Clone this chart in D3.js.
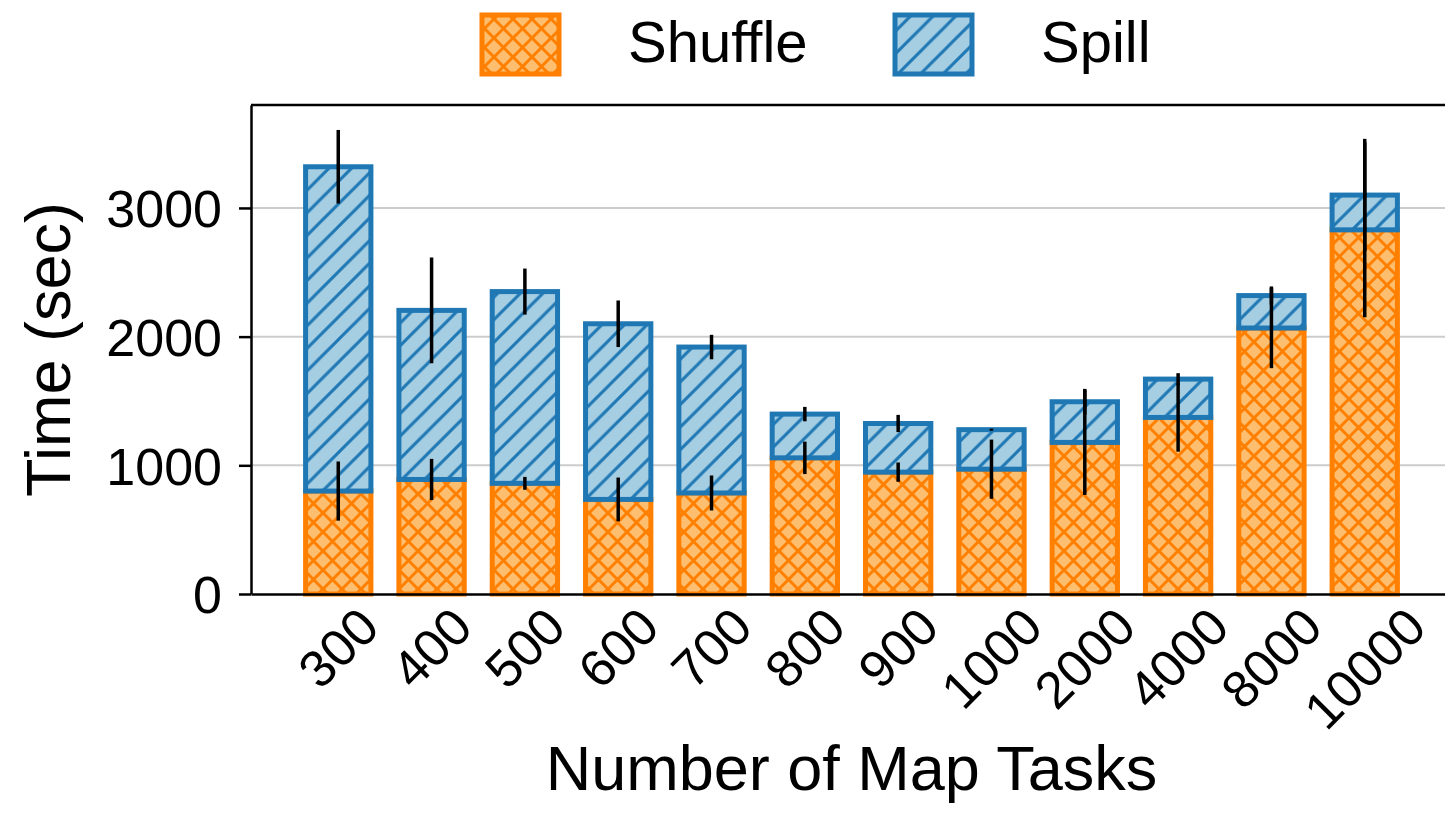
<!DOCTYPE html>
<html>
<head>
<meta charset="utf-8">
<script src="https://cdn.jsdelivr.net/npm/d3@7"></script>
<style>
  body { margin: 0; background: #fff; }
  text { font-family: "Liberation Sans", Arial, sans-serif; fill: #000; }
</style>
</head>
<body>
<script>
// values
const categories = ["300", "400", "500", "600", "700", "800", "900", "1000", "2000", "4000", "8000", "10000"]
const shuffle    = [800, 890, 860, 735, 785, 1058, 947, 970, 1178, 1372, 2067, 2830]
const shuffleErr = [230, 160, 50, 170, 136, 126, 75, 230, 408, 266, 312, 680]
const spill      = [2520, 1314, 1490, 1365, 1134, 340, 378, 307, 316, 298, 252, 270]
const spillErr   = [286, 411, 179, 181, 95, 56, 67, 8, 100, 46, 71, 437]
const yTicks     = [0, 1000, 2000, 3000]

const width = 1445
const height = 829
const plot = { left: 251, right: 1452, top: 105, bottom: 594 }

const svg = d3.select("body").append("svg")
    .attr("width", width)
    .attr("height", height)
    .attr("xmlns", "http://www.w3.org/2000/svg")

const x = d3.scaleBand()
    .domain(categories)
    .range([plot.left, plot.right])
    .paddingInner(0.3)
    .paddingOuter(0.585)

const y = d3.scaleLinear()
    .domain([0, 3800])
    .range([plot.bottom, plot.top])

// hatch patterns, like matplotlib's 'xxx' and '//'
const defs = svg.append("defs")
const addHatch = (id, s, bg, color, cross) => {
  const p = defs.append("pattern")
      .attr("id", id)
      .attr("patternUnits", "userSpaceOnUse")
      .attr("width", s)
      .attr("height", s)
  p.append("rect").attr("width", s).attr("height", s).attr("fill", bg)
  p.append("path")
      .attr("d", `M${-s/2},${s/2}L${s/2},${-s/2}M0,${s}L${s},0M${s/2},${s*1.5}L${s*1.5},${s/2}`)
      .attr("stroke", color)
      .attr("stroke-width", 3)
  if (cross) {
    p.append("path")
        .attr("d", `M${-s/2},${s/2}L${s/2},${s*1.5}M0,0L${s},${s}M${s/2},${-s/2}L${s*1.5},${s/2}`)
        .attr("stroke", color)
        .attr("stroke-width", 3)
  }
}
addHatch("hatchShuffle", 19, "#fdbf6f", "#ff7f00", true)
addHatch("hatchSpill", 22.6, "#a6cee3", "#1f78b4", false)

// grid
svg.append("g")
  .selectAll("line")
  .data(yTicks.filter(d => d > 0))
  .join("line")
    .attr("x1", plot.left)
    .attr("x2", plot.right)
    .attr("y1", d => y(d))
    .attr("y2", d => y(d))
    .attr("stroke", "#cccccc")
    .attr("stroke-width", 2)

const rows = categories.map((c, i) => ({
  cat: c,
  shuffle: shuffle[i],
  shuffleErr: shuffleErr[i],
  total: shuffle[i] + spill[i],
  spillErr: spillErr[i]
}))

// shuffle bars
svg.append("g")
  .selectAll("rect")
  .data(rows)
  .join("rect")
    .attr("x", d => x(d.cat))
    .attr("width", x.bandwidth())
    .attr("y", d => y(d.shuffle))
    .attr("height", d => y(0) - y(d.shuffle))
    .attr("fill", "url(#hatchShuffle)")
    .attr("stroke", "#ff7f00")
    .attr("stroke-width", 5)

// spill bars stacked on top
svg.append("g")
  .selectAll("rect")
  .data(rows)
  .join("rect")
    .attr("x", d => x(d.cat))
    .attr("width", x.bandwidth())
    .attr("y", d => y(d.total))
    .attr("height", d => y(d.shuffle) - y(d.total))
    .attr("fill", "url(#hatchSpill)")
    .attr("stroke", "#1f78b4")
    .attr("stroke-width", 5)

// error bars
const errs = svg.append("g").attr("stroke", "#000").attr("stroke-width", 3.5)
errs.selectAll(".e1")
  .data(rows)
  .join("line")
    .attr("class", "e1")
    .attr("x1", d => x(d.cat) + x.bandwidth() / 2)
    .attr("x2", d => x(d.cat) + x.bandwidth() / 2)
    .attr("y1", d => y(d.shuffle - d.shuffleErr))
    .attr("y2", d => y(d.shuffle + d.shuffleErr))
errs.selectAll(".e2")
  .data(rows)
  .join("line")
    .attr("class", "e2")
    .attr("x1", d => x(d.cat) + x.bandwidth() / 2)
    .attr("x2", d => x(d.cat) + x.bandwidth() / 2)
    .attr("y1", d => y(d.total - d.spillErr))
    .attr("y2", d => y(d.total + d.spillErr))

// axes
const yAxis = svg.append("g")
    .attr("transform", `translate(${plot.left},0)`)
    .call(d3.axisLeft(y).tickValues(yTicks).tickFormat(d3.format("d"))
      .tickSize(12).tickSizeOuter(0).tickPadding(17))
yAxis.select(".domain").attr("stroke-width", 2.5)
yAxis.selectAll(".tick line").attr("stroke-width", 2.5)
yAxis.selectAll(".tick text")
    .attr("font-size", 52)
    .attr("font-family", "Liberation Sans, Arial, sans-serif")
    .attr("dy", "0.36em")

const xAxis = svg.append("g")
    .attr("transform", `translate(0,${plot.bottom})`)
    .call(d3.axisBottom(x).tickSize(0).tickSizeOuter(0))
xAxis.select(".domain").attr("stroke-width", 2.5)

const angle = 45
const rad = angle * Math.PI / 180
const xFont = 52
xAxis.selectAll(".tick text")
    .attr("font-size", xFont)
    .attr("font-family", "Liberation Sans, Arial, sans-serif")
    .attr("dy", null)
    .attr("y", 0)
    .attr("text-anchor", "middle")
    .attr("dominant-baseline", "central")
    .attr("transform", function() {
      const len = this.getComputedTextLength()
      const h = len * Math.sin(rad) + xFont * 0.72 * Math.cos(rad)
      return `translate(0,${10 + h / 2}) rotate(${-angle})`
    })

// top spine
svg.append("line")
    .attr("x1", plot.left)
    .attr("x2", plot.right)
    .attr("y1", plot.top)
    .attr("y2", plot.top)
    .attr("stroke", "#000")
    .attr("stroke-width", 2.5)

// axis titles
svg.append("text")
    .attr("x", (plot.left + plot.right) / 2)
    .attr("y", 790)
    .attr("text-anchor", "middle")
    .attr("font-size", 63)
    .text("Number of Map Tasks")

svg.append("text")
    .attr("transform", `translate(70,${(plot.top + plot.bottom) / 2}) rotate(-90)`)
    .attr("text-anchor", "middle")
    .attr("font-size", 63)
    .text("Time (sec)")

// legend
const legend = [
  { label: "Shuffle", fill: "url(#hatchShuffle)", edge: "#ff7f00", x: 482 },
  { label: "Spill", fill: "url(#hatchSpill)", edge: "#1f78b4", x: 895 }
]
const lg = svg.append("g")
lg.selectAll("rect")
  .data(legend)
  .join("rect")
    .attr("x", d => d.x)
    .attr("y", 15)
    .attr("width", 77)
    .attr("height", 59)
    .attr("fill", d => d.fill)
    .attr("stroke", d => d.edge)
    .attr("stroke-width", 5)
lg.selectAll("text")
  .data(legend)
  .join("text")
    .attr("x", d => d.x + 146)
    .attr("y", 62)
    .attr("font-size", 58)
    .text(d => d.label)
</script>
</body>
</html>
